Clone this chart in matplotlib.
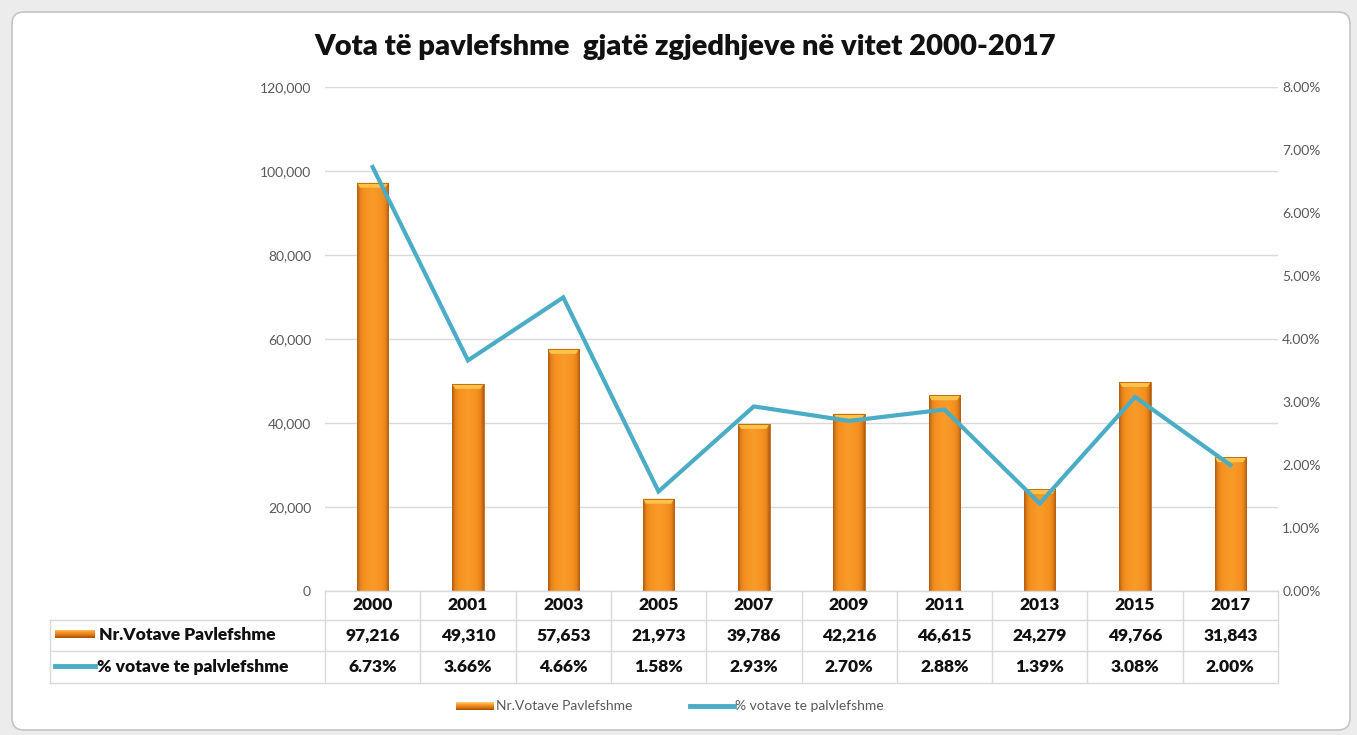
import matplotlib
matplotlib.use('Agg')
import matplotlib.pyplot as plt
import numpy as np
from matplotlib.patches import FancyBboxPatch, Rectangle, Polygon
from matplotlib.lines import Line2D
import matplotlib.transforms as mtransforms
from matplotlib.colors import LinearSegmentedColormap
from matplotlib.ticker import FuncFormatter, MultipleLocator

years = ['2000', '2001', '2003', '2005', '2007', '2009', '2011', '2013', '2015', '2017']
invalid_votes = [97216, 49310, 57653, 21973, 39786, 42216, 46615, 24279, 49766, 31843]
invalid_pct = [6.73, 3.66, 4.66, 1.58, 2.93, 2.70, 2.88, 1.39, 3.08, 2.00]
votes_labels = ['97,216', '49,310', '57,653', '21,973', '39,786', '42,216', '46,615', '24,279', '49,766', '31,843']
pct_labels = ['6.73%', '3.66%', '4.66%', '1.58%', '2.93%', '2.70%', '2.88%', '1.39%', '3.08%', '2.00%']
series_bar = 'Nr.Votave Pavlefshme'
series_line = '% votave te palvlefshme'
title = 'Vota të pavlefshme  gjatë zgjedhjeve në vitet 2000-2017'

FONT = ['Lato', 'DejaVu Sans']
plt.rcParams['font.family'] = FONT

W, H = 1357, 735
fig = plt.figure(figsize=(W / 100, H / 100), dpi=100)
fig.patch.set_facecolor('#ececec')
PIX = mtransforms.IdentityTransform()


def py(y):
    return H - y


# white rounded chart area
fig.add_artist(FancyBboxPatch((12, py(730)), 1338, 718,
                              boxstyle='round,pad=0,rounding_size=12',
                              transform=PIX, fc='white', ec='#c4c4c4', lw=1.2, zorder=-10))

L, R, T, B = 325, 1278, 87, 591
ax = fig.add_axes([L / W, py(B) / H, (R - L) / W, (B - T) / H])
ax.set_facecolor('none')
x = np.arange(len(years))
bw = 0.33
bars = ax.bar(x, invalid_votes, width=bw, color='none', zorder=2)

cmap_body = LinearSegmentedColormap.from_list(
    'body', [(0, '#B45A0C'), (0.09, '#E4821C'), (0.2, '#F5911F'), (0.5, '#F99B29'),
             (0.8, '#F5911F'), (0.91, '#E4821C'), (1, '#B45A0C')])
grad = np.linspace(0, 1, 64).reshape(1, -1)
px_y = 120000 / (B - T)   # data units per pixel (y)
px_x = 1 / ((R - L) / len(years))  # data units per pixel (x)
for rect, v in zip(bars, invalid_votes):
    x0 = rect.get_x()
    x1 = x0 + rect.get_width()
    im = ax.imshow(grad, cmap=cmap_body, extent=(x0, x1, 0, v), aspect='auto',
                   zorder=2, interpolation='bicubic')
    im.set_clip_path(rect)
    cap = Polygon([(x0, v), (x1, v), (x1 - 3 * px_x, v - 5 * px_y), (x0 + 3 * px_x, v - 5 * px_y)],
                  closed=True, fc='#FDC24A', ec='none', zorder=2.1)
    ax.add_patch(cap)
    ax.add_patch(Rectangle((x0, 0), x1 - x0, v, fc='none', ec='#B8620E', lw=0.6, zorder=2.2))

ax.set_xlim(-0.5, len(years) - 0.5)
ax.set_ylim(0, 120000)
ax.set_aspect('auto')
ax.yaxis.set_major_locator(MultipleLocator(20000))
ax.yaxis.set_major_formatter(FuncFormatter(lambda v, p: f'{v:,.0f}'))
ax.grid(axis='y', color='#d9d9d9', lw=1, zorder=0)
ax.set_axisbelow(True)
ax.set_xticks([])
for s in ax.spines.values():
    s.set_visible(False)
ax.tick_params(axis='y', length=0, pad=10, labelsize=10, labelcolor='#595959')

ax2 = ax.twinx()
ax2.set_ylim(0, 8)
ax2.yaxis.set_major_locator(MultipleLocator(1))
ax2.yaxis.set_major_formatter(FuncFormatter(lambda v, p: f'{v:.2f}%'))
ax2.tick_params(axis='y', length=0, pad=3, labelsize=10, labelcolor='#595959')
for s in ax2.spines.values():
    s.set_visible(False)
ax2.plot(x, invalid_pct, color='#4BACC6', lw=3.0, zorder=3, solid_joinstyle='miter')

# data table
GRID = '#d9d9d9'
bt = mtransforms.blended_transform_factory(ax.transData, PIX)
n = len(years)
for i in range(n + 1):
    fig.add_artist(Line2D([i - 0.5, i - 0.5], [py(B), py(683)], transform=bt, color=GRID, lw=1))
fig.add_artist(Line2D([-0.5, n - 0.5], [py(B), py(B)], transform=bt, color=GRID, lw=1))
for yy in (620, 651, 683):
    fig.add_artist(Line2D([50, R], [py(yy), py(yy)], transform=PIX, color=GRID, lw=1))
fig.add_artist(Line2D([50, 50], [py(620), py(683)], transform=PIX, color=GRID, lw=1))

TXT = '#111111'
for i in range(n):
    fig.text(i, py(605), years[i], transform=bt, ha='center', va='center',
             fontsize=12.5, fontweight='heavy', color=TXT)
    fig.text(i, py(635.5), votes_labels[i], transform=bt, ha='center', va='center',
             fontsize=12.5, fontweight='heavy', color=TXT)
    fig.text(i, py(667), pct_labels[i], transform=bt, ha='center', va='center',
             fontsize=12.5, fontweight='heavy', color=TXT)


def bar_icon(x0, x1, yc, h):
    axi = fig.add_axes([x0 / W, (py(yc) - h / 2) / H, (x1 - x0) / W, h / H])
    axi.imshow(np.linspace(0, 1, 32).reshape(-1, 1), cmap=LinearSegmentedColormap.from_list(
        'ic', ['#FFD27A', '#F6962A', '#E07812', '#A44E08']), aspect='auto', interpolation='bicubic')
    axi.axis('off')


bar_icon(55, 95, 634, 9)
fig.text(99, py(635.5), series_bar, transform=PIX, ha='left', va='center',
         fontsize=12.5, fontweight='heavy', color=TXT)
fig.add_artist(Line2D([55, 95], [py(666), py(666)], transform=PIX, color='#4BACC6', lw=3.5))
fig.text(97, py(667), series_line, transform=PIX, ha='left', va='center',
         fontsize=12.5, fontweight='heavy', color=TXT)

# legend
bar_icon(456, 494, 706, 8)
fig.text(496, py(706), series_bar, transform=PIX, ha='left', va='center',
         fontsize=10, color='#595959')
fig.add_artist(Line2D([690, 734], [py(706), py(706)], transform=PIX, color='#4BACC6', lw=3.5))
fig.text(735, py(706), series_line, transform=PIX, ha='left', va='center',
         fontsize=10, color='#595959')

fig.text(685, py(47), title, transform=PIX, ha='center', va='center',
         fontsize=21, fontweight='heavy', color=TXT)

fig.savefig('out.png', dpi=100, facecolor=fig.get_facecolor())
